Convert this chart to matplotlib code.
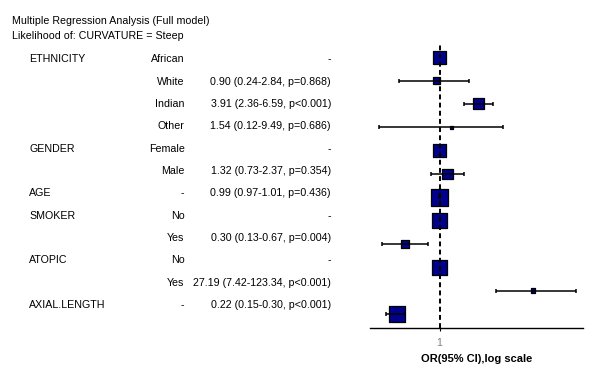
import numpy as np
import matplotlib
matplotlib.use('Agg')
import matplotlib.pyplot as plt

plt.rcParams['font.family'] = ['Liberation Sans', 'DejaVu Sans']

# Data
variables = ['ETHNICITY', '', '', '', 'GENDER', '', 'AGE', 'SMOKER', '', 'ATOPIC', '', 'AXIAL.LENGTH']
levels = ['African', 'White', 'Indian', 'Other', 'Female', 'Male', '-', 'No', 'Yes', 'No', 'Yes', '-']
odds = [1.0, 0.90, 3.91, 1.54, 1.0, 1.32, 0.99, 1.0, 0.30, 1.0, 27.19, 0.22]
ci_low = [np.nan, 0.24, 2.36, 0.12, np.nan, 0.73, 0.97, np.nan, 0.13, np.nan, 7.42, 0.15]
ci_high = [np.nan, 2.84, 6.59, 9.49, np.nan, 2.37, 1.01, np.nan, 0.67, np.nan, 123.34, 0.30]
p_vals = ['', '=0.868', '<0.001', '=0.686', '', '=0.354', '=0.436', '', '=0.004', '', '<0.001', '<0.001']
is_ref = [True, False, False, False, True, False, False, True, False, True, False, False]
n_total = [170, 42, 120, 12, 170, 120, 275, 225, 64, 225, 20, 260]

title = 'Multiple Regression Analysis (Full model)'
subtitle = 'Likelihood of: CURVATURE = Steep'
xlabel = 'OR(95% CI),log scale'

W, H = 594, 373
fig = plt.figure(figsize=(W / 100, H / 100), dpi=100)

# table part, in pixel coordinates
tab = fig.add_axes([0, 0, 1, 1])
tab.set_xlim(0, W)
tab.set_ylim(H, 0)
tab.axis('off')

fs = 7.7
tab.text(12, 24, title, fontsize=fs, va='baseline', ha='left')
tab.text(12, 39.3, subtitle, fontsize=fs, va='baseline', ha='left')

for i in range(len(levels)):
    yb = 62.3 + i * 22.34
    tab.text(29, yb, variables[i], fontsize=fs, va='baseline', ha='left')
    tab.text(184.5, yb, levels[i], fontsize=fs, va='baseline', ha='right')
    if is_ref[i]:
        txt = '-'
    else:
        txt = f'{odds[i]:.2f} ({ci_low[i]:.2f}-{ci_high[i]:.2f}, p{p_vals[i]})'
    tab.text(331, yb, txt, fontsize=fs, va='baseline', ha='right')

# forest plot
x0, x1, y0, y1 = 370, 583, 43, 328
ax = fig.add_axes([x0 / W, 1 - y1 / H, (x1 - x0) / W, (y1 - y0) / H])
ax.patch.set_alpha(0)
ax.set_xscale('log')
ax.set_xlim(0.0859, 158.8)
rows = np.arange(len(levels))
ax.set_ylim(11.60, -0.613)

sides = np.sqrt(np.array(n_total)) * 0.72  # px -> pt
ax.scatter(odds, rows, s=sides ** 2, marker='s', color='#00008b',
           edgecolor='black', linewidth=0.9, zorder=2)

lo = np.array(odds) - np.array(ci_low)
hi = np.array(ci_high) - np.array(odds)
ax.errorbar(odds, rows, xerr=[lo, hi], fmt='none', ecolor='black',
            elinewidth=1.1, capsize=1.6, capthick=1.1, zorder=3)

ax.axvline(1, color='black', lw=1.4, ls=(0, (2.5, 1.7)), zorder=4)

for s in ['top', 'right', 'left']:
    ax.spines[s].set_visible(False)
ax.spines['bottom'].set_linewidth(1.0)
ax.set_yticks([])
ax.set_xticks([1])
ax.set_xticklabels(['1'])
ax.xaxis.set_minor_locator(matplotlib.ticker.NullLocator())
ax.tick_params(axis='x', length=2.2, width=0.8, labelsize=fs, labelcolor='#808080', pad=5)
ax.set_xlabel(xlabel, fontsize=8.0, fontweight='bold', labelpad=4)

fig.savefig('out.png', dpi=100)
